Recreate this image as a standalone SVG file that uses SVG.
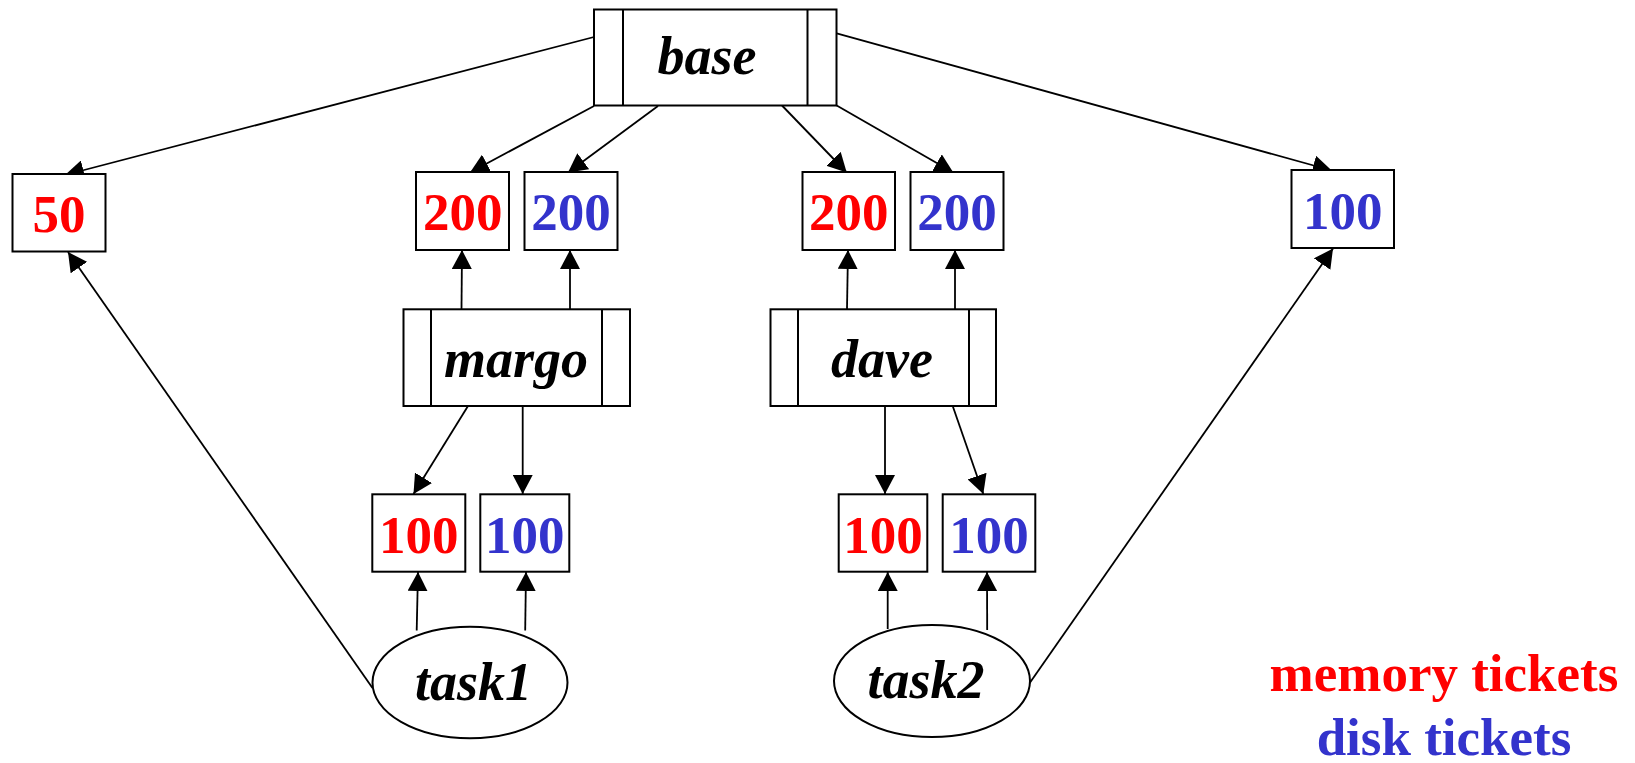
<svg xmlns="http://www.w3.org/2000/svg" width="1635" height="763" viewBox="0 0 1635 763">
<defs>
<style>
.box{fill:#fff;stroke:#000;stroke-width:2}
.sep{stroke:#000;stroke-width:2}
.name{font-family:"Liberation Serif","Times New Roman",serif;font-weight:bold;font-style:italic;font-size:54px;text-anchor:middle;fill:#000}
.num{font-family:"Liberation Serif","Times New Roman",serif;font-weight:bold;font-size:53px;text-anchor:middle}
.mem{fill:#ff0000}
.disk{fill:#3333cc}
.edge{fill:none;stroke:#000;stroke-width:1.8;marker-end:url(#arr)}
</style>
<marker id="arr" viewBox="0 0 19 20" refX="19" refY="10" markerWidth="19" markerHeight="20" markerUnits="userSpaceOnUse" orient="auto">
<path d="M0,0 L19,10 L0,20 z" fill="#000"/>
</marker>
</defs>
<rect width="1635" height="763" fill="#fff"/>

<g id="connectors">
<path class="edge" d="M594,37 L65,175"/>
<path class="edge" d="M594,106 L470,172.5"/>
<path class="edge" d="M658,106 L568,172.5"/>
<path class="edge" d="M782,105.5 L846.7,172.5"/>
<path class="edge" d="M836.7,105.5 L953.3,172.5"/>
<path class="edge" d="M836.7,33.3 L1331.7,170.5"/>
<path class="edge" d="M461.5,309 L462,250"/>
<path class="edge" d="M570,309 L570,250"/>
<path class="edge" d="M847,309 L848,250"/>
<path class="edge" d="M955,309 L955,250"/>
<path class="edge" d="M468,406 L413.5,494"/>
<path class="edge" d="M522.7,406 L522.7,494"/>
<path class="edge" d="M885,406 L885,494"/>
<path class="edge" d="M952.7,406 L983.3,494"/>
<path class="edge" d="M416.7,630.5 L418,572"/>
<path class="edge" d="M525.2,630.5 L526,572"/>
<path class="edge" d="M887.7,629 L887.7,572"/>
<path class="edge" d="M987.2,630 L987,572"/>
<path class="edge" d="M372.5,688 L68,252"/>
<path class="edge" d="M1029,684 L1333,248.5"/>
</g>

<g id="base">
<rect class="box" x="594" y="9.5" width="242.5" height="96"/>
<line class="sep" x1="623" y1="9.5" x2="623" y2="105.5"/>
<line class="sep" x1="807.5" y1="9.5" x2="807.5" y2="105.5"/>
<text class="name" x="707" y="74">base</text>
</g>

<g id="t50">
<rect class="box" x="12.5" y="174" width="93" height="77.5"/>
<text class="num mem" x="59" y="232">50</text>
</g>
<g id="m200a">
<rect class="box" x="416" y="172" width="93" height="78"/>
<text class="num mem" x="462.7" y="229.5">200</text>
</g>
<g id="d200a">
<rect class="box" x="524.5" y="172" width="93" height="78"/>
<text class="num disk" x="571" y="229.5">200</text>
</g>
<g id="m200b">
<rect class="box" x="802.5" y="172" width="92.5" height="78"/>
<text class="num mem" x="848.7" y="229.5">200</text>
</g>
<g id="d200b">
<rect class="box" x="910.5" y="172" width="93" height="78"/>
<text class="num disk" x="957" y="229.5">200</text>
</g>
<g id="d100r">
<rect class="box" x="1291.5" y="170" width="102.5" height="78"/>
<text class="num disk" x="1342.7" y="229">100</text>
</g>

<g id="margo">
<rect class="box" x="403.5" y="309.3" width="226.5" height="96.7"/>
<line class="sep" x1="431" y1="309.3" x2="431" y2="406"/>
<line class="sep" x1="602" y1="309.3" x2="602" y2="406"/>
<text class="name" x="516" y="377">margo</text>
</g>
<g id="dave">
<rect class="box" x="770.5" y="309.3" width="225.5" height="96.7"/>
<line class="sep" x1="798" y1="309.3" x2="798" y2="406"/>
<line class="sep" x1="969" y1="309.3" x2="969" y2="406"/>
<text class="name" x="882" y="377">dave</text>
</g>

<g id="m100a">
<rect class="box" x="372.3" y="494.3" width="93" height="77.4"/>
<text class="num mem" x="418.8" y="553.3">100</text>
</g>
<g id="d100a">
<rect class="box" x="480.3" y="494.3" width="89" height="77.4"/>
<text class="num disk" x="524.8" y="553.3">100</text>
</g>
<g id="m100b">
<rect class="box" x="838.7" y="494.3" width="88.6" height="77.4"/>
<text class="num mem" x="883" y="553.3">100</text>
</g>
<g id="d100b">
<rect class="box" x="942.7" y="494.3" width="92.6" height="77.4"/>
<text class="num disk" x="989" y="553.3">100</text>
</g>

<g id="task1">
<ellipse class="box" cx="470" cy="682.5" rx="97.5" ry="55.8"/>
<text class="name" x="473.4" y="700">task1</text>
</g>
<g id="task2">
<ellipse class="box" cx="932" cy="681" rx="98" ry="56"/>
<text class="name" x="926" y="698.3">task2</text>
</g>

<g id="legend">
<text class="num mem" x="1444" y="691">memory tickets</text>
<text class="num disk" x="1444" y="755">disk tickets</text>
</g>
</svg>
